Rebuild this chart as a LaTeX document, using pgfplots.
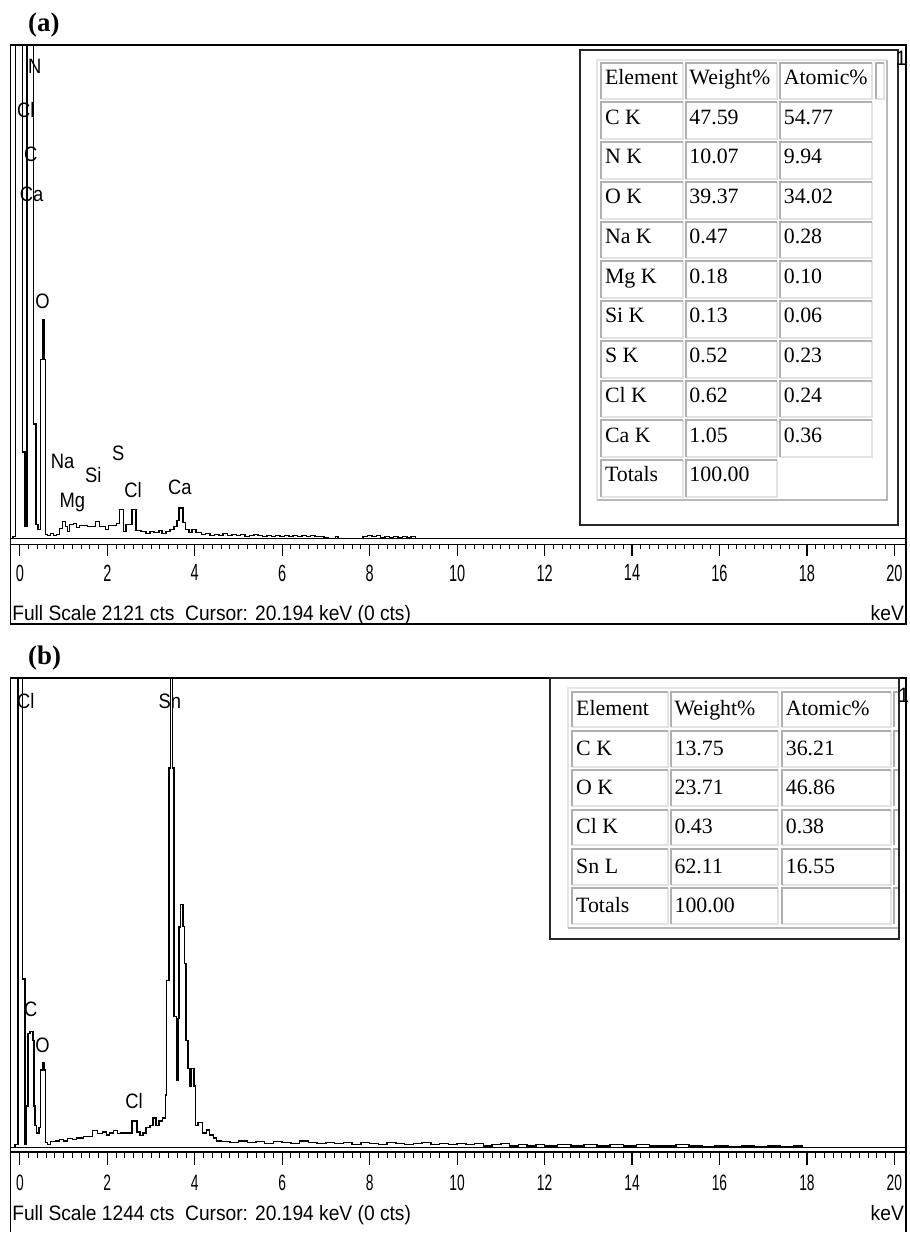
\documentclass[border=0pt]{standalone}
\usepackage{fontspec}
\setmainfont{Liberation Serif}
\newfontfamily\tickfont[FakeStretch=0.62]{Liberation Sans}
\newfontfamily\lblfont[FakeStretch=0.88]{Liberation Sans}
\newfontfamily\txtfont[FakeStretch=0.92]{Liberation Sans}
\usepackage{pgfplots}
\pgfplotsset{compat=1.18}

\newcommand\tabfont{\rmfamily\fontsize{11}{12}\selectfont}
\newcommand\lbl{\lblfont\fontsize{10.5}{12}\selectfont}
\newcommand\statfont{\txtfont\fontsize{10.5}{12}\selectfont}

% table cell: x1 y1 x2 y2 baseline text (pixel units, y pointing down)
\newcommand\tcell[6]{%
  \fill[white] (#1,#2) rectangle (#3,#4);
  \draw[gray!22, line width=1pt] (#1,#4) -- (#3,#4) -- (#3,#2);
  \draw[gray!62, line width=1pt] (#1,#4) -- (#1,#2) -- (#3,#2);
  \node[anchor=base west, inner sep=0pt, font=\tabfont] at (#1+3.5,#5) {#6};
}

\tikzset{pk/.style={font=\lbl, inner sep=0pt}}

\pgfplotsset{
  eds/.style={
    scale only axis, width=450.75pt, anchor=north west,
    xmin=-0.216, xmax=20.27,
    axis line style={line width=0.9pt},
    xtick={0,2,...,20}, minor x tick num=9, ytick=\empty,
    tick align=outside, xtick pos=left,
    major tick style={line width=0.6pt, black},
    minor tick style={line width=0.5pt, black},
    /pgf/number format/assume math mode=true,
  },
  spec/.style={const plot, black, line width=0.75pt, mark=none},
}

\begin{document}
\begin{tikzpicture}
\begin{scope}[x=0.5pt,y=-0.5pt]
\useasboundingbox (0,0) rectangle (914,1233);
\end{scope}

% ---------------- (a) ----------------
\begin{axis}[eds, at={(5.25pt,-22.5pt)}, height=251.5pt,
  ymin=-25.6, ymax=2121,
  major tick length=6pt, minor tick length=2.5pt,
  xticklabel style={font=\tickfont\fontsize{11.8}{12}\selectfont, inner sep=0pt},
  xticklabel shift=4pt]
\addplot[spec] table {
x y
-0.216 0
-0.159 9
-0.102 3000
0.061 371
0.114 51
0.159 3000
0.311 491
0.364 60
0.420 38
0.466 768
0.516 939
0.552 768
0.584 17
0.636 13
0.705 21
0.773 13
0.841 17
0.909 43
0.977 73
1.045 51
1.091 30
1.136 60
1.227 64
1.295 47
1.364 55
1.545 51
1.727 73
1.818 51
1.955 38
2.023 55
2.205 64
2.273 124
2.364 30
2.432 60
2.568 124
2.659 34
2.773 30
2.886 21
2.977 30
3.068 26
3.182 34
3.250 21
3.341 30
3.432 38
3.523 51
3.591 77
3.636 132
3.727 68
3.784 38
3.864 26
3.932 38
4.023 26
4.159 17
4.25 21
4.35 13
4.45 17
4.55 13
4.65 21
4.75 13
4.85 17
4.95 13
5.05 17
5.15 9
5.25 13
5.35 17
5.45 13
5.55 9
5.65 13
5.75 9
5.85 13
5.95 9
6.05 13
6.15 9
6.25 13
6.35 9
6.45 13
6.55 9
6.65 13
6.75 9
6.85 9
6.95 4
7.05 0
7.22 9
7.28 0
7.85 9
7.95 13
8.05 9
8.15 13
8.25 4
8.35 9
8.45 4
8.55 9
8.65 4
8.75 9
8.85 4
8.95 9
9.05 0
20.27 0
};
\draw[line width=0.5pt] (axis cs:-0.216,0) -- (axis cs:20.27,0);
\node[pk] at (axis cs:0.34,2027) {N};
\node[pk] at (axis cs:0.136,1840) {Cl};
\node[pk] at (axis cs:0.25,1652) {C};
\node[pk] at (axis cs:0.27,1477) {Ca};
\node[pk] at (axis cs:0.52,1020) {O};
\node[pk] at (axis cs:0.977,333) {Na};
\node[pk] at (axis cs:1.68,273) {Si};
\node[pk] at (axis cs:2.25,367) {S};
\node[pk] at (axis cs:1.20,154) {Mg};
\node[pk] at (axis cs:2.59,209) {Cl};
\node[pk] at (axis cs:3.66,218) {Ca};
\end{axis}

% ---------------- (b) ----------------
\begin{axis}[eds, at={(5.25pt,-341pt)}, height=238.65pt,
  ymin=-11.3, ymax=1244,
  major tick length=6.5pt, minor tick length=3pt,
  xticklabel style={font=\tickfont\fontsize{11.2}{12}\selectfont, inner sep=0pt},
  xticklabel shift=4.85pt]
\addplot[spec] table {
x y
-0.216 0
-0.114 8
-0.039 2000
0.061 447
0.114 8
0.152 110
0.189 302
0.227 308
0.302 284
0.325 110
0.341 58
0.380 39
0.439 53
0.470 205
0.516 224
0.552 205
0.584 13
0.636 8
0.705 16
0.818 18
0.909 21
1.000 18
1.091 24
1.205 21
1.295 26
1.455 29
1.659 45
1.773 37
1.886 42
1.977 34
2.045 39
2.136 45
2.227 37
2.318 39
2.568 71
2.682 42
2.750 32
2.818 39
2.886 53
2.977 58
3.045 79
3.114 58
3.182 71
3.261 79
3.334 139
3.357 442
3.409 1005
3.443 2000
3.489 1005
3.523 347
3.580 179
3.614 342
3.636 584
3.675 644
3.734 586
3.766 487
3.802 284
3.848 210
3.886 163
3.925 210
3.977 163
4.016 58
4.068 66
4.182 39
4.273 47
4.341 34
4.432 26
4.500 18
4.6 16
4.8 13
5.0 18
5.2 13
5.4 16
5.6 11
5.8 16
6.0 13
6.2 11
6.4 18
6.6 13
6.8 11
7.0 13
7.2 11
7.4 13
7.6 8
7.8 13
8.0 11
8.2 8
8.4 13
8.6 11
8.8 8
9.0 11
9.2 13
9.4 8
9.6 11
9.8 8
10.0 11
10.2 8
10.4 11
10.6 5
10.8 8
11.0 11
11.2 5
11.4 8
11.6 5
11.8 8
12.0 5
12.3 8
12.6 5
12.9 8
13.2 5
13.5 8
13.8 5
14.1 8
14.4 5
14.7 5
15.0 8
15.3 5
15.6 3
15.9 5
16.2 3
16.5 5
16.8 3
17.1 5
17.4 3
17.7 5
17.9 0
20.27 0
};
\draw[line width=0.5pt] (axis cs:-0.216,0) -- (axis cs:20.27,0);
\node[pk] at (axis cs:0.136,1181) {Cl};
\node[pk] at (axis cs:3.43,1181) {Sn};
\node[pk] at (axis cs:0.25,366) {C};
\node[pk] at (axis cs:0.52,271) {O};
\node[pk] at (axis cs:2.61,124) {Cl};
\end{axis}

\begin{scope}[x=0.5pt,y=-0.5pt]
% panel labels
\node[anchor=base west, inner sep=0pt, font=\bfseries\fontsize{13.5}{15}\selectfont] at (28,32) {(a)};
\node[anchor=base west, inner sep=0pt, font=\bfseries\fontsize{13.5}{15}\selectfont] at (28,669) {(b)};

% frame below the rulers
\draw[line width=0.9pt] (10.5,548) -- (10.5,628) -- (911.5,628) -- (911.5,548);
\draw[line width=0.9pt] (10.5,1159) -- (10.5,1240);
\draw[line width=0.9pt] (911.5,1159) -- (911.5,1240);

% status lines
\node[anchor=base west, inner sep=0pt, font=\statfont] at (12,624) {Full Scale 2121 cts\ \ Cursor: 20.194 keV (0 cts)};
\node[anchor=base east, inner sep=0pt, font=\statfont] at (910,624) {keV};
\node[anchor=base west, inner sep=0pt, font=\statfont] at (12,1228) {Full Scale 1244 cts\ \ Cursor: 20.194 keV (0 cts)};
\node[anchor=base east, inner sep=0pt, font=\statfont] at (910,1228) {keV};

% ---- table (a) ----
\fill[white] (584,50) rectangle (904,528);
\draw[gray!20, line width=1pt] (601,503) -- (601,60) -- (893,60);
\draw[gray!55, line width=1pt] (601,503) -- (893,503) -- (893,60);
\foreach \e/\w/\ac [count=\i from 0] in {Element/Weight\%/Atomic\%, C K/47.59/54.77, N K/10.07/9.94, O K/39.37/34.02, Na K/0.47/0.28, Mg K/0.18/0.10, Si K/0.13/0.06, S K/0.52/0.23, Cl K/0.62/0.24, Ca K/1.05/0.36}{
  \pgfmathsetmacro\ya{63+40*\i}
  \pgfmathsetmacro\yb{100+40*\i}
  \pgfmathsetmacro\yc{85+40*\i}
  \tcell{605}{\ya}{687}{\yb}{\yc}{\e}
  \tcell{690}{\ya}{782}{\yb}{\yc}{\w}
  \tcell{785}{\ya}{878}{\yb}{\yc}{\ac}
}
\tcell{605}{463}{687}{500}{485}{Totals}
\tcell{690}{463}{782}{500}{485}{100.00}
\tcell{882}{63}{890}{100}{85}{}
\draw[black!85, line width=1pt] (584,50) rectangle (904,528);
\node[anchor=north, inner sep=0pt, font=\statfont] at (907,51) {1};

% ---- table (b) ----
\fill[white] (554,682) rectangle (905,945);
\draw[gray!20, line width=1pt] (572,934) -- (572,692) -- (904,692);
\draw[gray!55, line width=1pt] (572,934) -- (904,934);
\foreach \e/\w/\ac [count=\i from 0] in {Element/Weight\%/Atomic\%, C K/13.75/36.21, O K/23.71/46.86, Cl K/0.43/0.38, Sn L/62.11/16.55, Totals/100.00/}{
  \pgfmathsetmacro\ya{696+39.6*\i}
  \pgfmathsetmacro\yb{732+39.6*\i}
  \pgfmathsetmacro\yc{720.5+39.6*\i}
  \tcell{576}{\ya}{672}{\yb}{\yc}{\e}
  \tcell{675}{\ya}{783}{\yb}{\yc}{\w}
  \tcell{787}{\ya}{897}{\yb}{\yc}{\ac}
  \draw[gray!62, line width=1pt] (900,\yb) -- (900,\ya) -- (904,\ya);
}
\draw[black!85, line width=1pt] (554,682) rectangle (905,945);
\node[anchor=north, inner sep=0pt, font=\statfont] at (909.5,692) {1};
\end{scope}
\end{tikzpicture}
\end{document}
